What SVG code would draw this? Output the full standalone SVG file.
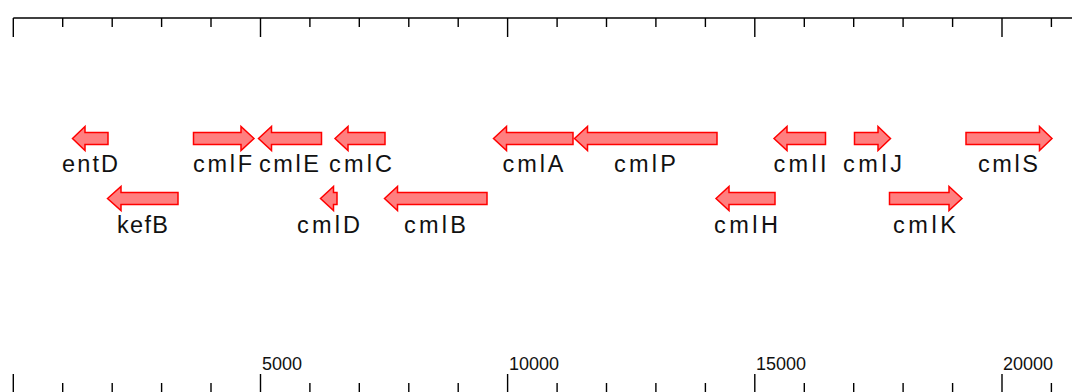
<svg xmlns="http://www.w3.org/2000/svg" width="1072" height="392" viewBox="0 0 1072 392">
  <style>
    .axis { stroke: #000; stroke-width: 1.4; fill: none; }
    .gene { fill: #ff7f7f; stroke: #ff0000; stroke-width: 1.5; stroke-linejoin: miter; }
    .lbl { font-family: "Liberation Sans", Arial, sans-serif; font-size: 23.5px; fill: #111; text-anchor: middle; }
    .num { font-family: "Liberation Sans", Arial, sans-serif; font-size: 18px; fill: #111; }
  </style>
  <rect width="1072" height="392" fill="#fff"/>

  <!-- top scale -->
  <g id="scale-top" class="axis">
    <line x1="13.3" y1="18" x2="1072" y2="18"/>
    <path d="M13.3,18V37 M62.7,18V27 M112.2,18V27 M161.6,18V27 M211,18V27 M260.5,18V37 M309.9,18V27 M359.3,18V27 M408.8,18V27 M458.2,18V27 M507.6,18V37 M557.1,18V27 M606.5,18V27 M655.9,18V27 M705.4,18V27 M754.8,18V37 M804.3,18V27 M853.7,18V27 M903.1,18V27 M952.6,18V27 M1002,18V37 M1051.4,18V27"/>
  </g>

  <!-- bottom scale -->
  <g id="scale-bottom">
    <path class="axis" d="M13.3,374V392 M62.7,383V392 M112.2,383V392 M161.6,383V392 M211,383V392 M260.5,374V392 M309.9,383V392 M359.3,383V392 M408.8,383V392 M458.2,383V392 M507.6,374V392 M557.1,383V392 M606.5,383V392 M655.9,383V392 M705.4,383V392 M754.8,374V392 M804.3,383V392 M853.7,383V392 M903.1,383V392 M952.6,383V392 M1002,374V392 M1051.4,383V392"/>
    <text class="num" x="262" y="370">5000</text>
    <text class="num" x="509" y="370">10000</text>
    <text class="num" x="756" y="370">15000</text>
    <text class="num" x="1003" y="370">20000</text>
  </g>

  <!-- genes, upper row -->
  <g id="entD">
    <path class="gene" d="M72.5,138.5 L85,126.5 L85,132.5 L108,132.5 L108,144.5 L85,144.5 L85,150.5 Z"/>
    <text class="lbl" x="90" y="172" textLength="56" lengthAdjust="spacing">entD</text>
  </g>
  <g id="cmlF">
    <path class="gene" d="M254,138.5 L241,126.5 L241,132.5 L193.5,132.5 L193.5,144.5 L241,144.5 L241,150.5 Z"/>
    <text class="lbl" x="222.5" y="172" textLength="59" lengthAdjust="spacing">cmlF</text>
  </g>
  <g id="cmlE">
    <path class="gene" d="M258.5,138.5 L271.5,126.5 L271.5,132.5 L321.5,132.5 L321.5,144.5 L271.5,144.5 L271.5,150.5 Z"/>
    <text class="lbl" x="289" y="172" textLength="60" lengthAdjust="spacing">cmlE</text>
  </g>
  <g id="cmlC">
    <path class="gene" d="M335,138.5 L348,126.5 L348,132.5 L385,132.5 L385,144.5 L348,144.5 L348,150.5 Z"/>
    <text class="lbl" x="360.5" y="172" textLength="63" lengthAdjust="spacing">cmlC</text>
  </g>
  <g id="cmlA">
    <path class="gene" d="M493.5,138.5 L506.5,126.5 L506.5,132.5 L573,132.5 L573,144.5 L506.5,144.5 L506.5,150.5 Z"/>
    <text class="lbl" x="533" y="172" textLength="61" lengthAdjust="spacing">cmlA</text>
  </g>
  <g id="cmlP">
    <path class="gene" d="M574.5,138.5 L587.5,126.5 L587.5,132.5 L717,132.5 L717,144.5 L587.5,144.5 L587.5,150.5 Z"/>
    <text class="lbl" x="645" y="172" textLength="62" lengthAdjust="spacing">cmlP</text>
  </g>
  <g id="cmlI">
    <path class="gene" d="M774,138.5 L787,126.5 L787,132.5 L825.5,132.5 L825.5,144.5 L787,144.5 L787,150.5 Z"/>
    <text class="lbl" x="800" y="172" textLength="53" lengthAdjust="spacing">cmlI</text>
  </g>
  <g id="cmlJ">
    <path class="gene" d="M890.5,138.5 L878,126.5 L878,132.5 L854.5,132.5 L854.5,144.5 L878,144.5 L878,150.5 Z"/>
    <text class="lbl" x="872.5" y="172" textLength="59" lengthAdjust="spacing">cmlJ</text>
  </g>
  <g id="cmlS">
    <path class="gene" d="M1052,138.5 L1039.5,126.5 L1039.5,132.5 L966,132.5 L966,144.5 L1039.5,144.5 L1039.5,150.5 Z"/>
    <text class="lbl" x="1008" y="172" textLength="60" lengthAdjust="spacing">cmlS</text>
  </g>

  <!-- genes, lower row -->
  <g id="kefB">
    <path class="gene" d="M107.5,198.5 L121,186.5 L121,192.5 L178,192.5 L178,204.5 L121,204.5 L121,210.5 Z"/>
    <text class="lbl" x="142.5" y="233" textLength="51" lengthAdjust="spacing">kefB</text>
  </g>
  <g id="cmlD">
    <path class="gene" d="M320.5,198.5 L333.5,186.5 L333.5,192.5 L337,192.5 L337,204.5 L333.5,204.5 L333.5,210.5 Z"/>
    <text class="lbl" x="328.5" y="233" textLength="63" lengthAdjust="spacing">cmlD</text>
  </g>
  <g id="cmlB">
    <path class="gene" d="M384.5,198.5 L397.5,186.5 L397.5,192.5 L487,192.5 L487,204.5 L397.5,204.5 L397.5,210.5 Z"/>
    <text class="lbl" x="435" y="233" textLength="62" lengthAdjust="spacing">cmlB</text>
  </g>
  <g id="cmlH">
    <path class="gene" d="M716,198.5 L729,186.5 L729,192.5 L775,192.5 L775,204.5 L729,204.5 L729,210.5 Z"/>
    <text class="lbl" x="746" y="233" textLength="64" lengthAdjust="spacing">cmlH</text>
  </g>
  <g id="cmlK">
    <path class="gene" d="M962,198.5 L949,186.5 L949,192.5 L889.5,192.5 L889.5,204.5 L949,204.5 L949,210.5 Z"/>
    <text class="lbl" x="924.5" y="233" textLength="63" lengthAdjust="spacing">cmlK</text>
  </g>
</svg>
